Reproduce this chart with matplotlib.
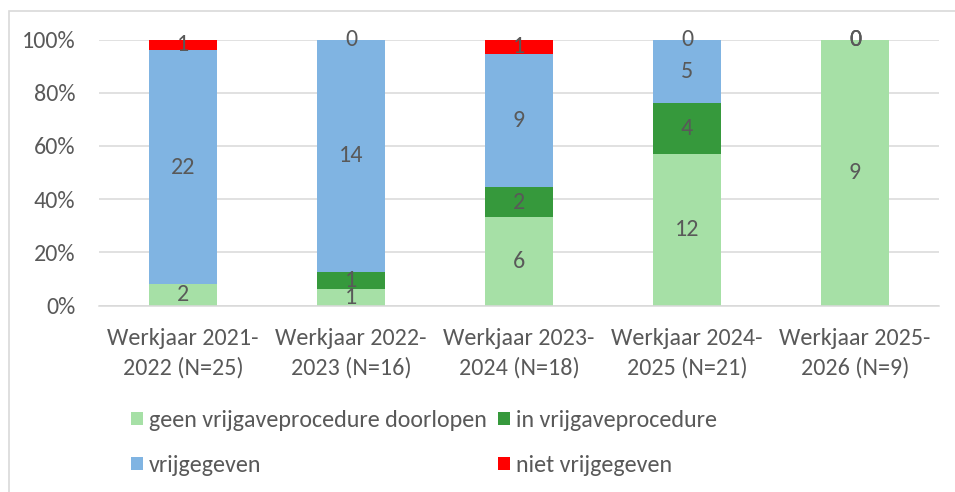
"""Stacked 100% bars: vrijgave status per werkjaar."""

import numpy as np
import matplotlib
matplotlib.use("Agg")
import matplotlib.pyplot as plt
from matplotlib.patches import Rectangle
from matplotlib.ticker import PercentFormatter

plt.rcParams["font.family"] = ["Carlito", "DejaVu Sans"]

# Data (counts per category, None = no label in the original)
categories = ["Werkjaar 2021-\n2022 (N=25)", "Werkjaar 2022-\n2023 (N=16)",
              "Werkjaar 2023-\n2024 (N=18)", "Werkjaar 2024-\n2025 (N=21)",
              "Werkjaar 2025-\n2026 (N=9)"]
geen_vrijgave = [2, 1, 6, 12, 9]
in_vrijgave = [None, 1, 2, 4, 0]
vrijgegeven = [22, 14, 9, 5, 0]
niet_vrijgegeven = [1, 0, 1, 0, 0]

series = [
    ("geen vrijgaveprocedure doorlopen", geen_vrijgave, "#a6e0a6"),
    ("in vrijgaveprocedure", in_vrijgave, "#36993c"),
    ("vrijgegeven", vrijgegeven, "#80b4e2"),
    ("niet vrijgegeven", niet_vrijgegeven, "#ff0000"),
]

text_color = "#595959"
grid_color = "#d9d9d9"
fs = 17.3

counts = np.array([[np.nan if v is None else v for v in s[1]] for s in series], dtype=float)
totals = np.nansum(counts, axis=0)
pct = np.nan_to_num(counts) / totals * 100

fig = plt.figure(figsize=(9.55, 4.92), dpi=100)
ax = fig.add_axes([99 / 955, 1 - 305.5 / 492, 840 / 955, 266 / 492])

x = np.arange(len(categories))
bottom = np.zeros(len(categories))
handles = []
for (name, values, color), p, c in zip(series, pct, counts):
    bars = ax.bar(x, p, bottom=bottom, width=0.403, color=color, label=name, zorder=2)
    handles.append(bars)
    for xi, b, h, n in zip(x, bottom, p, c):
        if np.isnan(n):
            continue
        ax.text(xi, b + h / 2, f"{int(n)}", ha="center", va="center",
                fontsize=fs, color=text_color, zorder=3)
    bottom += p

ax.set_xlim(-0.5, len(categories) - 0.5)
ax.set_ylim(0, 100)
ax.set_yticks(range(0, 101, 20))
ax.yaxis.set_major_formatter(PercentFormatter(decimals=0))
ax.set_xticks(x)
ax.set_xticklabels(categories, linespacing=1.5)
ax.tick_params(axis="y", length=0, pad=17, labelsize=fs, labelcolor=text_color)
ax.tick_params(axis="x", length=0, pad=16, labelsize=fs, labelcolor=text_color)
ax.grid(axis="y", color=grid_color, linewidth=1.1, zorder=0)
for side in ["top", "right", "left"]:
    ax.spines[side].set_visible(False)
ax.spines["bottom"].set_color(grid_color)
ax.spines["bottom"].set_linewidth(1.1)

# Legend, Excel order row-wise -> matplotlib fills column-wise
order = [0, 2, 1, 3]
fig.legend([handles[i] for i in order], [series[i][0] for i in order],
           ncol=2, loc="center left", bbox_to_anchor=(131 / 955, 1 - 443 / 492),
           frameon=False, fontsize=fs, labelcolor=text_color,
           handlelength=0.5, handleheight=0.5, handletextpad=0.26,
           columnspacing=0.45, labelspacing=1.0, borderpad=0, borderaxespad=0)

# chart border (cropped on the right/bottom in the original)
fig.add_artist(Rectangle((9 / 955, -0.5), 2, 1.5 - 11 / 492, transform=fig.transFigure,
                         fill=False, edgecolor=grid_color, linewidth=1.2))

fig.savefig("out.png", dpi=100)
